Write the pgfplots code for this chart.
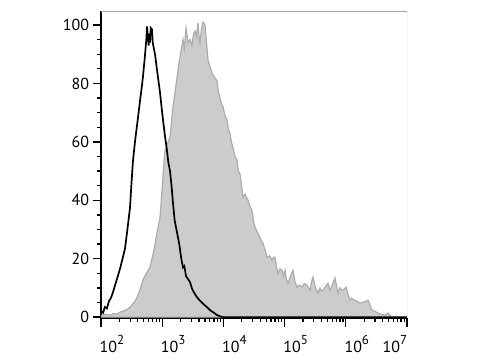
\documentclass[border=0pt]{standalone}
\usepackage{pgfplots}
\pgfplotsset{compat=1.18}
\usepackage{fontspec}
\setmainfont{PT Sans}
\newcommand\dec[1]{\mbox{10\raisebox{0.5em}{\fontsize{13}{13}\selectfont #1}}}
\pgfplotstableread{
x y
100 0.5
115 1.0
130 0.8
140 0.7
160 1.2
180 1.0
204 1.7
230 2.0
260 2.5
298 3.4
330 4.5
360 5.5
387 6.8
420 8.5
450 10.5
486 12.7
550 15
632 17.1
700 21
763 25
840 30
920 34
980 42
1031 48
1070 53
1111 57
1200 59
1341 61.6
1420 67
1501 72
1620 77
1746 82
1850 86
1954 89
2188 95
2300 92
2449 99
2642 94
2850 95
3069 93
3250 97
3435 98
3650 96
3846 100.7
4000 96
4146 94
4400 99
4645 101
5000 100
5300 94
5600 88
6000 86
6510 83.6
7200 82
7855 81
8300 77
8790 75
9300 73
9850 72
10600 69
11460 67.5
12100 64
12830 63
13500 60
14360 58
15500 55
16680 53.8
17600 50
18680 49
19800 45
20910 41
22540 42
25230 40
27000 38
29320 36.6
31000 33
32830 30.8
36000 29
39630 27.4
42000 26
44360 25.3
48000 23
51550 20.5
57000 21
62230 19.5
66000 20.5
69660 20.5
74000 17
77980 15
84000 16.5
90700 16
96000 14
101600 16
107000 13
113700 11.6
125000 14
137100 16
148000 12
159500 10.3
175000 11
192300 10.3
210000 11.5
232300 11
245000 10
260000 9.2
275000 12
291100 13.7
320000 10
351400 8.2
378400 10
400000 9
423600 9.2
470000 10.5
511400 11.6
551800 9.2
600000 11
666200 13.4
700000 11
746400 8.2
800000 10
867000 9.2
940000 9.5
1007000 10.3
1080000 8
1172000 5.8
1250000 6.5
1312000 6
1500000 5.5
1706000 4.8
2000000 5.2
2306000 5.8
2500000 4
2679000 2.4
3000000 2
3357000 1.4
3800000 1
4373000 0.7
4895000 1.4
5300000 0.6
5689000 0
10000000 0
}\stained
\pgfplotstableread{
x y
100 2.0
108 1.5
116 3.5
125 3.0
135 5.5
145 6.5
157 8.5
170 11
185 13.5
204 16.5
225 20
247 23.5
270 30
298 37.5
315 46
333 53.5
359 60
395 67
434 74
465 79
486 82.5
520 89
550 95
565 99.5
585 96
600 93
615 97
632 94
650 99
681 98.5
700 94
730 92
763 90
830 84
920 77
975 72
1031 67.5
1110 62
1197 57
1260 53
1341 50
1420 45
1501 39
1600 33
1746 29
1900 25
2050 20
2188 17
2300 17.5
2450 14
2650 13
2846 12
3100 9.5
3400 8
3705 6.8
4200 5.5
4700 4.5
5395 3.4
6200 2.2
7000 1.5
7855 0.7
8800 0.3
9850 0
10000000 0
}\isotype
\begin{document}
\begin{tikzpicture}[x=1pt,y=1pt]
\path (0,0) rectangle (480,360);
\begin{axis}[
  at={(101pt,42pt)}, anchor=south west,
  scale only axis, width=306pt, height=307pt,
  xmode=log, xmin=1e2, xmax=1e7, ymin=-0.3, ymax=104.8,
  axis lines=left,
  axis line style={-, line width=1.6pt, black},
  tick align=outside,
  major tick length=8.5pt, minor tick length=4pt,
  every tick/.style={black, line width=1.3pt},
  ytick={0,20,40,60,80,100},
  minor y tick num=3,
  /pgf/number format/assume math mode=true,
  xtick={1e2,1e3,1e4,1e5,1e6},
  xticklabels={\dec{2},\dec{3},\dec{4},\dec{5},\dec{6}},
  minor xtick={2e2,3e2,4e2,5e2,6e2,7e2,8e2,9e2,2e3,3e3,4e3,5e3,6e3,7e3,8e3,9e3,2e4,3e4,4e4,5e4,6e4,7e4,8e4,9e4,2e5,3e5,4e5,5e5,6e5,7e5,8e5,9e5,2e6,3e6,4e6,5e6,6e6,7e6,8e6,9e6},
  extra x ticks={1e7},
  extra x tick labels={\dec{7}},
  extra x tick style={xticklabel style={xshift=-23pt}},
  xticklabel style={xshift=11pt, yshift=-5pt},
  tick label style={font=\fontsize{16}{19}\selectfont},
  clip=true,
]
\addplot[fill=gray!40, draw=gray!65, line width=1.2pt] table[x=x,y=y] {\stained} \closedcycle;
\addplot[black, line width=1.7pt] table[x=x,y=y] {\isotype};
\draw[gray!70, line width=0.8pt] (rel axis cs:0,1) -- (rel axis cs:1,1) -- (rel axis cs:1,0);
\end{axis}
\end{tikzpicture}
\end{document}
